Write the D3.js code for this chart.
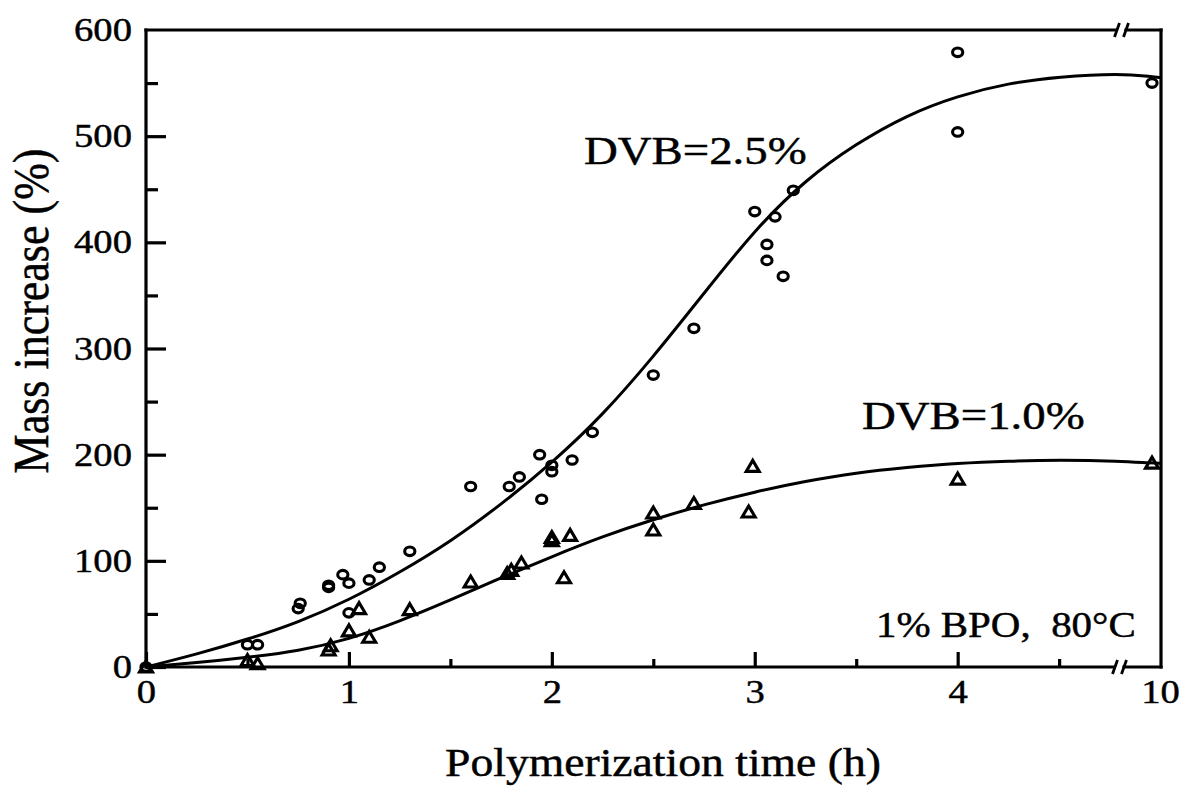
<!DOCTYPE html>
<html>
<head>
<meta charset="utf-8">
<script src="https://cdn.jsdelivr.net/npm/d3@7"></script>
<style>
  html, body { margin: 0; padding: 0; background: #fff; }
  svg text { font-family: "Liberation Serif", "Times New Roman", serif; fill: #000; stroke: #000; stroke-width: 0.45px; }
</style>
</head>
<body>
<svg id="chart" width="1188" height="790"></svg>
<script>
// ---- Data ----
// DVB = 2.5 % (circles)
const circX = [0, 0.5, 0.55, 0.75, 0.76, 0.9, 0.9, 0.97, 1.0, 1.0, 1.1, 1.15, 1.3, 1.6, 1.79, 1.84, 1.94, 1.95, 2.0, 2.0, 2.1, 2.2, 2.5, 2.7, 3.0, 3.06, 3.06, 3.1, 3.14, 3.19, 4.0, 4.0, 10];
const circY = [0, 21, 21, 55, 60, 75, 77, 87, 79, 51, 82, 94, 109, 170, 170, 179, 200, 158, 190, 184, 195, 221, 275, 319, 429, 398, 383, 424, 368, 449, 579, 504, 550];
// DVB = 1.0 % (triangles)
const triX = [0, 0.5, 0.55, 0.9, 0.91, 1.0, 1.05, 1.1, 1.3, 1.6, 1.78, 1.8, 1.85, 2.0, 2.0, 2.06, 2.09, 2.5, 2.5, 2.7, 2.97, 2.99, 4.0, 10];
const triY = [0, 6, 3, 16, 20, 34, 55, 28, 54, 80, 88, 91, 98, 119, 122, 84, 124, 145, 129, 154, 146, 189, 177, 192];
// fitted curves
const fitX   = [0, 0.25, 0.5, 0.75, 1.0, 1.25, 1.5, 1.75, 2.0, 2.25, 2.5, 2.75, 3.0, 3.25, 3.5, 3.75, 4.0, 4.25, 4.5, 4.8, 10, 10.3];
const fit25Y = [0, 12, 26, 42, 63, 89, 118, 153, 192, 237, 292, 352, 412, 459, 493, 520, 538, 550, 556, 559, 556, 555];
const fit10Y = [0, 4, 9, 15, 26, 43, 63, 84, 104, 123, 139, 153, 165, 175, 183, 188, 192, 194, 195, 194, 192, 192];
// ticks
const xMajor = [0, 1, 2, 3, 4, 10];
const xMajorLabels = ["0", "1", "2", "3", "4", "10"];
const xMinor = [0.5, 1.5, 2.5, 3.5, 4.5];
const yMajor = [0, 100, 200, 300, 400, 500, 600];
const yMinor = [50, 150, 250, 350, 450, 550];
const xTitle = "Polymerization time (h)";
const yTitle = "Mass increase (%)";
const label25 = "DVB=2.5%";
const label10 = "DVB=1.0%";
const condLabel = "1% BPO,  80°C";

// ---- Layout ----
const SX = 1.17; // horizontal stretch of the original figure
const svg = d3.select("#chart");
const x = d3.scaleLinear().domain([0, 4.8, 10, 10.3]).range([146, 1120, 1152, 1161]);
const y = d3.scaleLinear().domain([0, 600]).range([667, 30]);
const xL = x(0), xR = x(10.3), yB = y(0), yT = y(600);
const AXW = 3.2;

// ticks via d3 axes
const gx = svg.append("g").attr("transform", `translate(0,${yB})`)
  .call(d3.axisBottom(x).tickValues(xMajor).tickSize(-15).tickPadding(13)
        .tickFormat((d, i) => xMajorLabels[i]));
gx.select(".domain").remove();
gx.selectAll(".tick line").attr("stroke", "#000").attr("stroke-width", AXW);
gx.selectAll(".tick").filter(d => d === 10).select("line").remove();
gx.selectAll(".tick text").attr("font-size", 33).attr("transform", `scale(${SX},1)`);
gx.selectAll(".tick").filter(d => d === 10).select("text").attr("x", 8 / SX);

const gxm = svg.append("g").attr("transform", `translate(0,${yB})`)
  .call(d3.axisBottom(x).tickValues(xMinor).tickSize(-8).tickFormat(""));
gxm.select(".domain").remove();
gxm.selectAll(".tick line").attr("stroke", "#000").attr("stroke-width", AXW);

const gy = svg.append("g").attr("transform", `translate(${xL},0)`)
  .call(d3.axisLeft(y).tickValues(yMajor).tickSize(-20).tickPadding(12));
gy.select(".domain").remove();
gy.selectAll(".tick line").attr("stroke", "#000").attr("stroke-width", AXW);
gy.selectAll(".tick").filter(d => d === 600).select("line").remove();
gy.selectAll(".tick text").attr("font-size", 33).attr("transform", `scale(${SX},1)`);

const gym = svg.append("g").attr("transform", `translate(${xL},0)`)
  .call(d3.axisLeft(y).tickValues(yMinor).tickSize(-12).tickFormat(""));
gym.select(".domain").remove();
gym.selectAll(".tick line").attr("stroke", "#000").attr("stroke-width", AXW);

// frame with axis breaks
const frame = svg.append("g").attr("stroke", "#000").attr("stroke-width", AXW).attr("fill", "none")
  .attr("stroke-linecap", "square");
frame.append("line").attr("x1", xL).attr("y1", yT).attr("x2", xL).attr("y2", yB);
frame.append("line").attr("x1", xR).attr("y1", yT).attr("x2", xR).attr("y2", yB);
frame.append("line").attr("x1", xL).attr("y1", yT).attr("x2", 1116).attr("y2", yT);
frame.append("line").attr("x1", 1126).attr("y1", yT).attr("x2", xR).attr("y2", yT);
frame.append("line").attr("x1", xL).attr("y1", yB).attr("x2", 1114).attr("y2", yB);
frame.append("line").attr("x1", 1124).attr("y1", yB).attr("x2", xR).attr("y2", yB);
const brk = svg.append("g").attr("stroke", "#000").attr("stroke-width", 2.8).attr("stroke-linecap", "butt");
[[1117, yT], [1126, yT], [1115, yB], [1124, yB]].forEach(([bx, by]) => {
  brk.append("line").attr("x1", bx - 2.5).attr("y1", by + 7).attr("x2", bx + 2.5).attr("y2", by - 7);
});

// fitted curves
const line = d3.line().x(d => x(d[0])).y(d => y(d[1])).curve(d3.curveBasis);
svg.append("path").datum(fitX.map((v, i) => [v, fit25Y[i]]))
  .attr("d", line).attr("fill", "none").attr("stroke", "#000").attr("stroke-width", 3);
svg.append("path").datum(fitX.map((v, i) => [v, fit10Y[i]]))
  .attr("d", line).attr("fill", "none").attr("stroke", "#000").attr("stroke-width", 3);

// markers
svg.append("g").selectAll("ellipse").data(circX.map((v, i) => [v, circY[i]])).join("ellipse")
  .attr("cx", d => x(d[0])).attr("cy", d => y(d[1])).attr("rx", 5.1).attr("ry", 4.3)
  .attr("fill", "none").attr("stroke", "#000").attr("stroke-width", 3.1);
svg.append("g").selectAll("path").data(triX.map((v, i) => [v, triY[i]])).join("path")
  .attr("transform", d => `translate(${x(d[0])},${y(d[1])})`)
  .attr("d", "M0,-6L6.5,5L-6.5,5Z")
  .attr("fill", "none").attr("stroke", "#000").attr("stroke-width", 3.1).attr("stroke-linejoin", "miter");

// texts
function stretchedText(tx, ty, str, size, anchor, rot) {
  return svg.append("text")
    .attr("transform", `translate(${tx},${ty}) scale(${SX},1)` + (rot ? ` rotate(${rot})` : ""))
    .attr("font-size", size).attr("text-anchor", anchor || "start")
    .attr("xml:space", "preserve").style("white-space", "pre")
    .text(str);
}
stretchedText(663, 776, xTitle, 39, "middle");
stretchedText(48, 311, yTitle, 44, "middle", -90);
stretchedText(584, 164, label25, 40, "start");
stretchedText(862, 429, label10, 40, "start");
stretchedText(876, 637, condLabel, 35, "start");
</script>
</body>
</html>
